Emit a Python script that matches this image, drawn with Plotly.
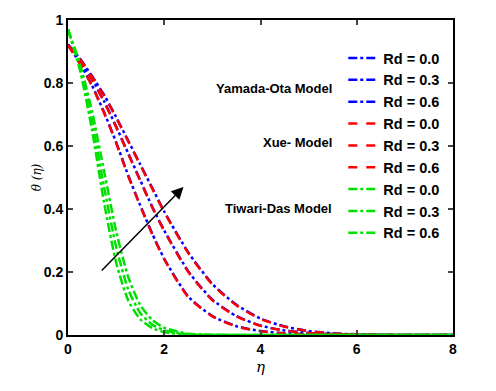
import plotly.graph_objects as go

# Data
eta = [0, 0.25, 0.5, 0.75, 1.0, 1.25, 1.5, 1.75, 2.0, 2.5, 3.0, 3.5, 4.0, 4.5, 5.0, 5.5, 6.0, 7.0, 8.0]

# Yamada-Ota model (blue)
yo_rd00 = [0.922, 0.862, 0.792, 0.707, 0.612, 0.507, 0.412, 0.322, 0.242, 0.122, 0.06, 0.028, 0.0125, 0.0055, 0.0022, 0.001, 0.0, 0.0, 0.0]
yo_rd03 = [0.922, 0.872, 0.812, 0.742, 0.662, 0.577, 0.492, 0.407, 0.332, 0.202, 0.112, 0.06, 0.03, 0.0145, 0.0065, 0.0028, 0.001, 0.0, 0.0]
yo_rd06 = [0.922, 0.877, 0.822, 0.762, 0.692, 0.617, 0.542, 0.467, 0.392, 0.262, 0.162, 0.096, 0.052, 0.027, 0.0125, 0.0055, 0.0022, 0.0, 0.0]

# Xue model (red)
xue_rd00 = [0.92, 0.86, 0.79, 0.705, 0.61, 0.505, 0.41, 0.32, 0.24, 0.12, 0.059, 0.027, 0.012, 0.005, 0.002, 0.001, 0.0, 0.0, 0.0]
xue_rd03 = [0.92, 0.87, 0.81, 0.74, 0.66, 0.575, 0.49, 0.405, 0.33, 0.2, 0.11, 0.059, 0.029, 0.014, 0.006, 0.0025, 0.001, 0.0, 0.0]
xue_rd06 = [0.92, 0.875, 0.82, 0.76, 0.69, 0.615, 0.54, 0.465, 0.39, 0.26, 0.16, 0.094, 0.051, 0.026, 0.012, 0.005, 0.002, 0.0, 0.0]

# Tiwari-Das model (green)
td_rd00 = [0.97, 0.84, 0.65, 0.42, 0.23, 0.11, 0.05, 0.022, 0.009, 0.001, 0.0, 0.0, 0.0, 0.0, 0.0, 0.0, 0.0, 0.0, 0.0]
td_rd03 = [0.97, 0.85, 0.68, 0.47, 0.28, 0.145, 0.07, 0.033, 0.015, 0.002, 0.0, 0.0, 0.0, 0.0, 0.0, 0.0, 0.0, 0.0, 0.0]
td_rd06 = [0.97, 0.86, 0.71, 0.52, 0.33, 0.185, 0.095, 0.048, 0.023, 0.004, 0.001, 0.0, 0.0, 0.0, 0.0, 0.0, 0.0, 0.0, 0.0]

legend_labels = ["Rd = 0.0", "Rd = 0.3", "Rd = 0.6"]
x_ticks = [0, 2, 4, 6, 8]
y_ticks = [0, 0.2, 0.4, 0.6, 0.8, 1.0]
y_ticktext = ["0", "0.2", "0.4", "0.6", "0.8", "1"]

groups = [
    ("blue", "dashdot", [yo_rd00, yo_rd03, yo_rd06]),
    ("red", "dash", [xue_rd00, xue_rd03, xue_rd06]),
    ("#00e000", "dashdot", [td_rd00, td_rd03, td_rd06]),
]

fig = go.Figure()
k = 0
for color, dash, series in groups:
    for lab, ys in zip(legend_labels, series):
        fig.add_trace(go.Scatter(
            x=eta, y=ys, mode="lines", name=lab,
            line=dict(color=color, dash=dash, width=2.5, shape="spline", smoothing=0.6),
            legendgroup="g%d" % k,
        ))
        k += 1

font_main = "Liberation Sans, Arial, sans-serif"

fig.update_layout(
    width=496, height=391,
    margin=dict(l=60, r=51, t=12, b=64),
    paper_bgcolor="white", plot_bgcolor="white",
    font=dict(family=font_main, color="black"),
    showlegend=True,
    legend=dict(
        x=0.715, y=0.93, xanchor="left", yanchor="top",
        bgcolor="rgba(0,0,0,0)", borderwidth=0,
        font=dict(size=14.5, family=font_main, color="black", weight="bold"),
        tracegroupgap=0, itemwidth=30,
    ),
    xaxis=dict(
        range=[0, 8], tickvals=x_ticks, ticks="inside", ticklen=5, tickwidth=2,
        showline=True, linecolor="black", linewidth=2, mirror="ticks",
        showgrid=False, zeroline=False, automargin=False,
        tickfont=dict(size=14, family=font_main, weight="bold"),
        title=dict(text="<i>η</i>", font=dict(size=15, family="DejaVu Serif"), standoff=6),
    ),
    yaxis=dict(
        range=[0, 1], tickvals=y_ticks, ticktext=y_ticktext, ticks="inside", ticklen=5, tickwidth=2,
        showline=True, linecolor="black", linewidth=2, mirror="ticks",
        showgrid=False, zeroline=False, automargin=False,
        tickfont=dict(size=14, family=font_main, weight="bold"),
        title=dict(text="<i>θ (η)</i>", font=dict(size=12, family="DejaVu Serif"), standoff=0),
    ),
)

ann_font = dict(size=13, family=font_main, color="black", weight="bold")
fig.add_annotation(x=0.69, y=0.813, xref="paper", yref="paper", text="Yamada-Ota Model",
                   showarrow=False, xanchor="right", font=ann_font)
fig.add_annotation(x=0.69, y=0.61, xref="paper", yref="paper", text="Xue- Model",
                   showarrow=False, xanchor="right", font=ann_font)
fig.add_annotation(x=0.69, y=0.403, xref="paper", yref="paper", text="Tiwari-Das Model",
                   showarrow=False, xanchor="right", font=ann_font)

# Arrow indicating increasing Rd
fig.add_annotation(x=2.4, y=0.47, ax=0.67, ay=0.2, xref="x", yref="y", axref="x", ayref="y",
                   text="", showarrow=True, arrowhead=2, arrowsize=1.6, arrowwidth=1.5,
                   arrowcolor="black")

fig.write_html("out.html")
